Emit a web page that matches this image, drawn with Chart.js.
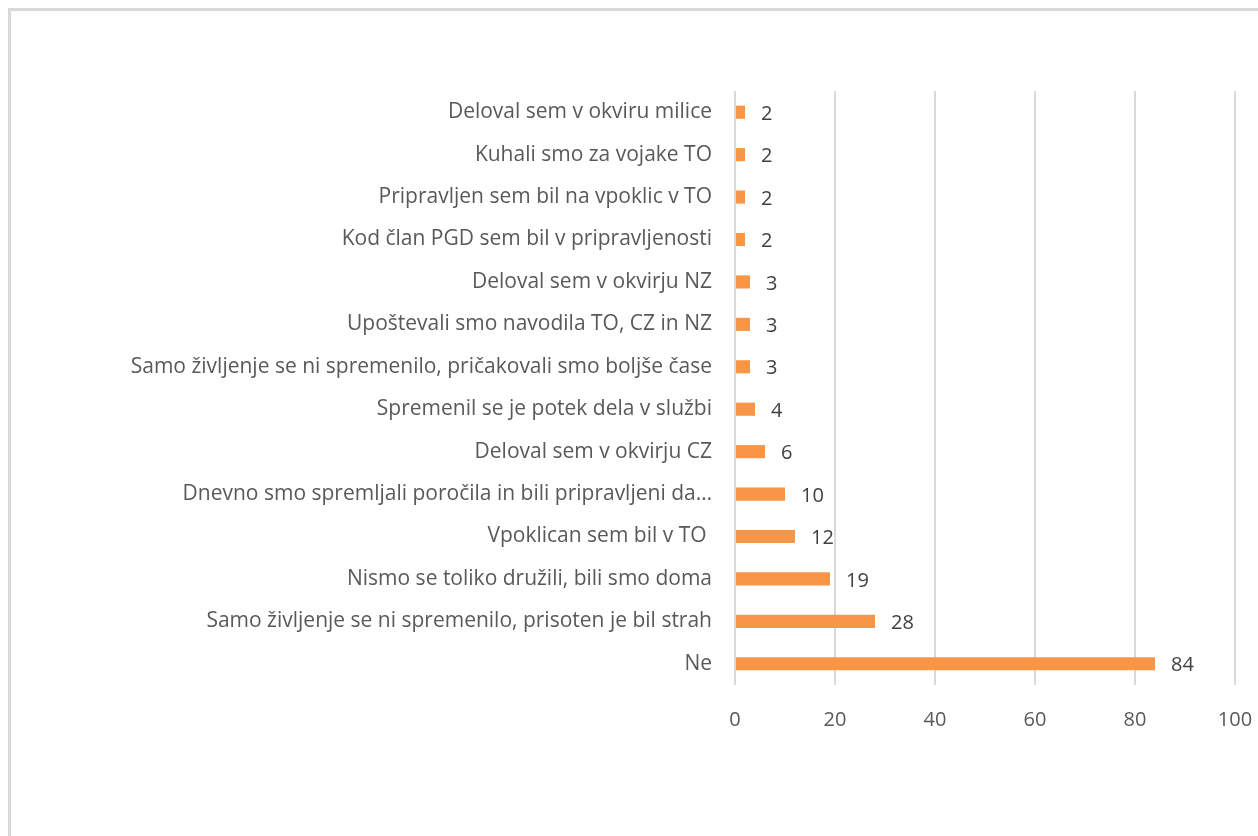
<!DOCTYPE html>
<html>
<head>
<meta charset="utf-8">
<script src="https://cdn.jsdelivr.net/npm/chart.js@4/dist/chart.umd.min.js"></script>
<style>
    html, body { margin: 0; padding: 0; background: #ffffff; overflow: hidden; }
    #okvir {
        position: absolute; left: 8px; top: 8px;
        width: 1400px; height: 1000px;
        border: 3px solid #d9d9d9; box-sizing: border-box;
    }
    #wrap { position: absolute; left: 0; top: 0; width: 1258px; height: 836px; }
</style>
</head>
<body>
<div id="okvir"></div>
<div id="wrap"><canvas id="chart-1"></canvas></div>
<script>
// odgovori (od zgoraj navzdol)
var odgovori = [
    "Deloval sem v okviru milice",
    "Kuhali smo za vojake TO",
    "Pripravljen sem bil na vpoklic v TO",
    "Kod član PGD sem bil v pripravljenosti",
    "Deloval sem v okvirju NZ",
    "Upoštevali smo navodila TO, CZ in NZ",
    "Samo življenje se ni spremenilo, pričakovali smo boljše čase",
    "Spremenil se je potek dela v službi",
    "Deloval sem v okvirju CZ",
    "Dnevno smo spremljali poročila in bili pripravljeni da…",
    "Vpoklican sem bil v TO ",
    "Nismo se toliko družili, bili smo doma",
    "Samo življenje se ni spremenilo, prisoten je bil strah",
    "Ne"
];
var stevilo = [2, 2, 2, 2, 3, 3, 3, 4, 6, 10, 12, 19, 28, 84];
var osX = [0, 20, 40, 60, 80, 100];

var pisava = "'Open Sans', 'Noto Sans', sans-serif";

// izpis vrednosti ob stolpcih
var oznakePlugin = {
    id: 'oznake',
    afterDatasetsDraw: function (chart) {
        var ctx = chart.ctx;
        var meta = chart.getDatasetMeta(0);
        ctx.save();
        ctx.font = "20px " + pisava;
        ctx.fillStyle = "#404040";
        ctx.textAlign = "left";
        ctx.textBaseline = "middle";
        meta.data.forEach(function (bar, i) {
            ctx.fillText(String(stevilo[i]), bar.x + 16, bar.y + 2);
        });
        ctx.restore();
    }
};

var ctx = document.getElementById("chart-1").getContext("2d");
var chart = new Chart(ctx, {
    type: "bar",
    data: {
        labels: odgovori,
        datasets: [{
            data: stevilo,
            backgroundColor: "#f79646",
            borderWidth: 0,
            categoryPercentage: 1,
            barPercentage: 0.31
        }]
    },
    options: {
        indexAxis: 'y',
        responsive: true,
        maintainAspectRatio: false,
        animation: false,
        layout: {
            padding: { top: 91, right: 23, bottom: 0, left: 0 }
        },
        plugins: {
            legend: { display: false },
            tooltip: { enabled: false }
        },
        scales: {
            x: {
                min: 0,
                max: 100,
                afterBuildTicks: function (axis) {
                    axis.ticks = osX.map(function (v) { return { value: v }; });
                },
                afterFit: function (axis) {
                    axis.height = 151;
                    axis.paddingLeft = 0;
                    axis.paddingRight = 0;
                },
                grid: {
                    color: "#d9d9d9",
                    lineWidth: 2,
                    drawTicks: false
                },
                border: { display: false },
                ticks: {
                    padding: 23,
                    color: "#595959",
                    font: { family: pisava, size: 20 }
                }
            },
            y: {
                afterFit: function (axis) { axis.width = 735; },
                grid: { display: false },
                border: { display: false },
                ticks: {
                    padding: 15,
                    color: "#595959",
                    autoSkip: false,
                    font: { family: pisava, size: 21 }
                }
            }
        }
    },
    plugins: [oznakePlugin]
});
</script>
</body>
</html>
